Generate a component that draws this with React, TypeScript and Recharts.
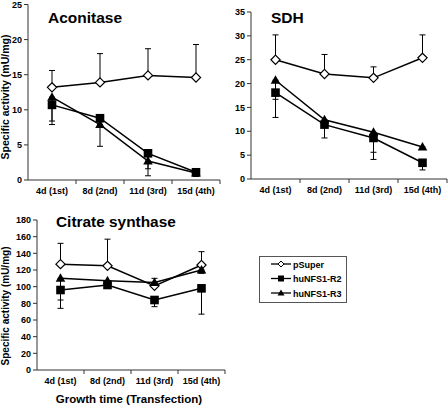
import { LineChart, Line, XAxis, YAxis, ErrorBar } from 'recharts';

const days = ['4d (1st)', '8d (2nd)', '11d (3rd)', '15d (4th)'];

// Aconitase (mU/mg)
const aconPSuper = [13.2, 13.9, 14.9, 14.6];
const aconPSuperErr = [2.4, 4.1, 3.8, 4.7];
const aconR2 = [10.7, 8.8, 3.8, 1.1];
const aconR2Err = [2.3, 0.5, 3.2, 0.6];
const aconR3 = [11.8, 7.9, 2.7, 1.0];
const aconR3Err = [3.9, 3.1, 1.1, 0.5];

// SDH (mU/mg)
const sdhPSuper = [25.0, 22.0, 21.2, 25.4];
const sdhPSuperErr = [5.2, 4.1, 2.3, 4.8];
const sdhR2 = [18.1, 11.4, 8.6, 3.4];
const sdhR2Err = [5.2, 2.8, 4.5, 1.5];
const sdhR3 = [20.7, 12.4, 9.8, 6.7];
const sdhR3Err = [4.0, 1.0, 4.2, 0.5];

// Citrate synthase (mU/mg)
const csPSuper = [127, 125, 101, 126];
const csPSuperErr = [25, 32, 9, 16];
const csR2 = [96, 102, 84, 98];
const csR2Err = [22, 4, 8, 31];
const csR3 = [110, 107, 105, 120];
const csR3Err = [26, 3, 5, 4];

const aconTicks = [0, 5, 10, 15, 20, 25];
const sdhTicks = [0, 5, 10, 15, 20, 25, 30, 35];
const csTicks = [0, 20, 40, 60, 80, 100, 120, 140, 160, 180];

const FONT = '"Liberation Sans", Arial, sans-serif';

function buildRows(ps: number[], psErr: number[], r2: number[], r2Err: number[], r3: number[], r3Err: number[]) {
  return days.map((day, i) => ({
    day,
    pSuper: ps[i],
    pSuperErr: [0, psErr[i]],
    r2: r2[i],
    r2Err: [r2Err[i], 0],
    r3: r3[i],
    r3Err: [r3Err[i], 0],
  }));
}

const aconData = buildRows(aconPSuper, aconPSuperErr, aconR2, aconR2Err, aconR3, aconR3Err);
const sdhData = buildRows(sdhPSuper, sdhPSuperErr, sdhR2, sdhR2Err, sdhR3, sdhR3Err);
const csData = buildRows(csPSuper, csPSuperErr, csR2, csR2Err, csR3, csR3Err);

const diamondDot = (props: any) => {
  const { cx, cy, index } = props;
  const h = 4.6;
  return (
    <path
      key={`d-${index}`}
      d={`M${cx},${cy - h} L${cx + h},${cy} L${cx},${cy + h} L${cx - h},${cy} Z`}
      fill="#fff"
      stroke="#000"
      strokeWidth={1.2}
    />
  );
};

const squareDot = (props: any) => {
  const { cx, cy, index } = props;
  const h = 4.3;
  return <rect key={`s-${index}`} x={cx - h} y={cy - h} width={h * 2} height={h * 2} fill="#000" />;
};

const triangleDot = (props: any) => {
  const { cx, cy, index } = props;
  return (
    <path key={`t-${index}`} d={`M${cx},${cy - 5} L${cx + 4.8},${cy + 3.5} L${cx - 4.8},${cy + 3.5} Z`} fill="#000" />
  );
};

// category labels, with tick marks on the category boundaries (Excel style)
const makeTick = (half: number) => (props: any) => {
  const { x, y, payload } = props;
  return (
    <g>
      <line x1={x + half} y1={y} x2={x + half} y2={y + 4} stroke="#333" />
      <text x={x} y={y + 14} textAnchor="middle" fontSize={9} fontWeight="bold" fontFamily={FONT} fill="#000">
        {payload.value}
      </text>
    </g>
  );
};

interface PanelProps {
  data: any[];
  width: number;
  height: number;
  margin: { top: number; right: number; bottom: number; left: number };
  yWidth: number;
  xHeight: number;
  pad: number;
  ticks: number[];
}

function Panel({ data, width, height, margin, yWidth, xHeight, pad, ticks }: PanelProps) {
  return (
    <LineChart width={width} height={height} data={data} margin={margin}>
      <XAxis
        dataKey="day"
        height={xHeight}
        padding={{ left: pad, right: pad }}
        tickLine={false}
        tickSize={0}
        tickMargin={0}
        interval={0}
        stroke="#333"
        tick={makeTick(pad)}
      />
      <YAxis
        width={yWidth}
        domain={[ticks[0], ticks[ticks.length - 1]]}
        ticks={ticks}
        interval={0}
        tickSize={4}
        tickMargin={2}
        stroke="#333"
        tick={{ fontSize: 9, fontWeight: 'bold', fill: '#000', fontFamily: FONT }}
      />
      <Line dataKey="pSuper" stroke="#000" strokeWidth={1.5} dot={diamondDot} isAnimationActive={false}>
        <ErrorBar dataKey="pSuperErr" width={3} stroke="#000" strokeWidth={1} direction="y" />
      </Line>
      <Line dataKey="r2" stroke="#000" strokeWidth={1.5} dot={squareDot} isAnimationActive={false}>
        <ErrorBar dataKey="r2Err" width={3} stroke="#000" strokeWidth={1} direction="y" />
      </Line>
      <Line dataKey="r3" stroke="#000" strokeWidth={1.5} dot={triangleDot} isAnimationActive={false}>
        <ErrorBar dataKey="r3Err" width={3} stroke="#000" strokeWidth={1} direction="y" />
      </Line>
    </LineChart>
  );
}

export default function App() {
  return (
    <div style={{ position: 'absolute', left: 0, top: 0, width: 448, height: 407, background: '#fff', fontFamily: FONT }}>
      <div style={{ position: 'absolute', left: 0, top: 0 }}>
        <Panel data={aconData} width={224} height={200} margin={{ top: 4.5, right: 4, bottom: 0, left: 0 }} yWidth={28} xHeight={20} pad={24} ticks={aconTicks} />
      </div>
      <div style={{ position: 'absolute', left: 224, top: 0 }}>
        <Panel data={sdhData} width={224} height={200} margin={{ top: 12, right: 1, bottom: 0, left: 0 }} yWidth={27} xHeight={21} pad={24.5} ticks={sdhTicks} />
      </div>
      <div style={{ position: 'absolute', left: 0, top: 200 }}>
        <Panel data={csData} width={230} height={190} margin={{ top: 20, right: 5, bottom: 0, left: 0 }} yWidth={37} xHeight={20} pad={23.5} ticks={csTicks} />
      </div>
      <svg width={448} height={407} style={{ position: 'absolute', left: 0, top: 0, pointerEvents: 'none' }}>
        <g fontFamily={FONT} fontWeight="bold" fill="#000">
          <text x={48} y={23} fontSize={15.5}>Aconitase</text>
          <text x={271} y={23} fontSize={15.5}>SDH</text>
          <text x={56} y={227} fontSize={15.4}>Citrate synthase</text>
          <text x={129} y={403} fontSize={11.5} textAnchor="middle">Growth time (Transfection)</text>
          <text x={0} y={0} fontSize={10.5} textAnchor="middle" transform="translate(8.5,97) rotate(-90)">
            Specific activity (mU/mg)
          </text>
          <text x={0} y={0} fontSize={10} textAnchor="middle" transform="translate(8.5,306) rotate(-90)">
            Specific activity (mU/mg)
          </text>
        </g>
        <rect x={259.5} y={256.5} width={87} height={46} fill="#fff" stroke="#555" strokeWidth={1} />
        <g stroke="#000" strokeWidth={1.3}>
          <line x1={271} y1={264} x2={291} y2={264} />
          <line x1={271} y1={278.5} x2={291} y2={278.5} />
          <line x1={271} y1={293} x2={291} y2={293} />
        </g>
        <path d="M281,261 L284,264 L281,267 L278,264 Z" fill="#fff" stroke="#000" strokeWidth={1} />
        <rect x={278} y={275.5} width={6} height={6} fill="#000" />
        <path d="M281,289.5 L284.5,295.5 L277.5,295.5 Z" fill="#000" />
        <g fontFamily={FONT} fontWeight="bold" fontSize={9} fill="#000">
          <text x={293} y={267.5}>pSuper</text>
          <text x={293} y={282}>huNFS1-R2</text>
          <text x={293} y={296.5}>huNFS1-R3</text>
        </g>
      </svg>
    </div>
  );
}
